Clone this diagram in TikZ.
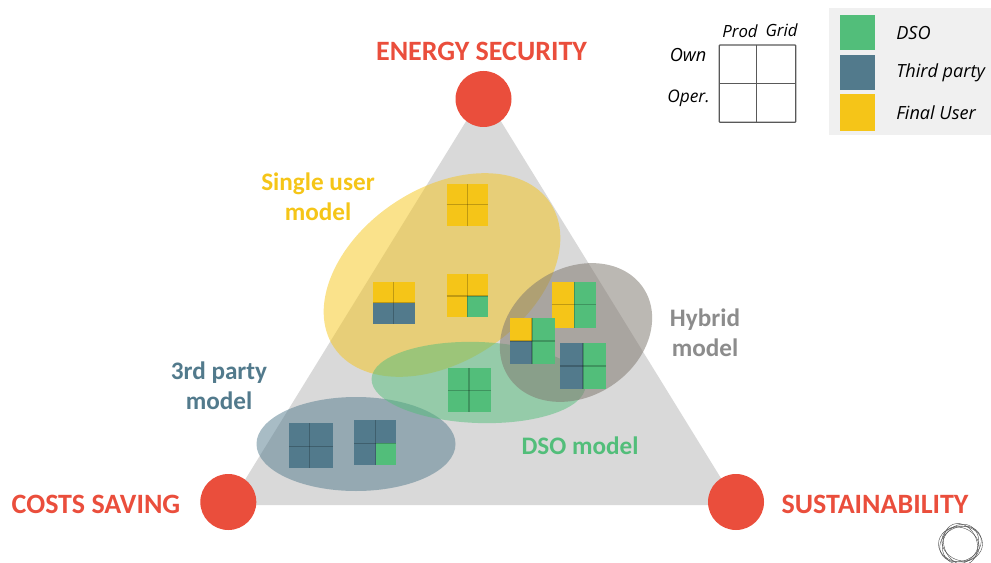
\documentclass[tikz,border=0pt]{standalone}
\usepackage{fontspec}
\setmainfont{Carlito}
\newfontfamily\keyfont{Open Sans}
\definecolor{redpoint}{HTML}{EA4E3C}
\definecolor{yellowuser}{HTML}{F5C518}
\definecolor{greendso}{HTML}{52BE7A}
\definecolor{bluethird}{HTML}{527A8C}
\definecolor{greyhybrid}{HTML}{7F786F}
\definecolor{greymodel}{HTML}{8C8C8C}
\begin{document}
\begin{tikzpicture}[
    x = 0.75pt,
    y = -0.75pt,
    corner/.style = {
        circle,
        fill = redpoint,
        minimum size = 42pt,
        inner sep = 0pt
    },
    goal/.style = {
        font = \fontsize{21}{23}\selectfont\bfseries,
        text = redpoint
    },
    model/.style = {
        font = \fontsize{18.9}{22.5}\selectfont\bfseries,
        align = center
    },
    keytext/.style = {
        font = \fontsize{13.6}{15}\keyfont\itshape
    },
    headtext/.style = {
        font = \fontsize{12.6}{14}\keyfont\itshape
    },
    cellline/.style = {
        draw = black,
        draw opacity = 0.22,
        line width = 1pt
    }
]

\useasboundingbox (0,0) rectangle (991,563);

% Triangle
\fill[gray!30] (483.5,93) -- (737.5,505) -- (229.5,505) -- cycle;

% Corners
\node[corner] (security) at (483.5,99) {};
\node[corner] (saving) at (228.3,502) {};
\node[corner] (sustain) at (736,502) {};

% Model ellipses
\fill[bluethird, opacity = 0.5] (356,444) ellipse [x radius = 99.5, y radius = 47];
\fill[yellowuser, opacity = 0.5] (442,275) ellipse [x radius = 130, y radius = 86.4, rotate = 33.7];
\fill[greendso, opacity = 0.5] (478.5,382.5) ellipse [x radius = 107, y radius = 40.5, rotate = -2];
\fill[greyhybrid, opacity = 0.53] (576,332.5) ellipse [x radius = 80.7, y radius = 64, rotate = 33];

% Small matrices: left, top, middle x, middle y, right, bottom, then the four cells
\foreach \xa/\ya/\xm/\ym/\xb/\yb/\ca/\cb/\cc/\cd in {
    446.5/184/467.3/204.7/487.7/225.7/yellowuser/yellowuser/yellowuser/yellowuser,
    373/281.7/393.7/302.7/415/324/yellowuser/yellowuser/bluethird/bluethird,
    446.7/274/467.3/296/487.7/316.7/yellowuser/yellowuser/yellowuser/greendso,
    551.7/281.7/574.3/304.7/596/327.7/yellowuser/greendso/yellowuser/greendso,
    510/317.7/532/341/554.7/363.7/yellowuser/greendso/bluethird/greendso,
    560/343.3/583/366/605.7/389/bluethird/greendso/bluethird/greendso,
    448.3/368.3/469/390.3/491/411.7/greendso/greendso/greendso/greendso,
    289/423.3/309.7/446.3/333/468/bluethird/bluethird/bluethird/bluethird,
    354/420.3/375.7/443.3/396/465/bluethird/bluethird/bluethird/greendso} {
    \fill[\ca] (\xa,\ya) rectangle (\xm,\ym);
    \fill[\cb] (\xm,\ya) rectangle (\xb,\ym);
    \fill[\cc] (\xa,\ym) rectangle (\xm,\yb);
    \fill[\cd] (\xm,\ym) rectangle (\xb,\yb);
    \draw[cellline] (\xm,\ya) -- (\xm,\yb);
    \draw[cellline] (\xa,\ym) -- (\xb,\ym);
}

% Goal labels
\node[goal] (energy) at (481.5,51) {ENERGY SECURITY};
\node[goal] (costs) at (96,504) {COSTS SAVING};
\node[goal] (sustainability) at (875,504) {SUSTAINABILITY};

% Model labels
\node[model, text = yellowuser] (single) at (318,196.5) {Single user\\model};
\node[model, text = bluethird] (third) at (219,386) {3rd party\\model};
\node[model, text = greymodel] (hybrid) at (705,333) {Hybrid\\model};
\node[model, text = greendso] (dso) at (580,446) {DSO model};

% Reading key
\draw[black!65, line width = 0.9pt, rounded corners = 0.5pt] (719.3,45) rectangle (795.7,122.3);
\draw[black!65, line width = 0.9pt] (756.7,45) -- (756.7,122.3);
\draw[black!65, line width = 0.9pt] (719.3,83.3) -- (795.7,83.3);
\node[headtext] (prod) at (740,31) {Prod};
\node[headtext] (grid) at (781.5,30) {Grid};
\node[keytext] (own) at (688,55) {Own};
\node[keytext, font = \fontsize{13}{15}\keyfont\itshape] (oper) at (688.5,98) {Oper.};

% Legend
\fill[black!6] (829,8) rectangle (991,135);
\foreach \ya/\yb/\cname/\ytext/\label in {
    15/50/greendso/33/DSO,
    55/90/bluethird/73/Third party,
    94/131/yellowuser/113/Final User} {
    \fill[\cname] (840,\ya) rectangle (875,\yb);
    \node[keytext, anchor = west, inner sep = 0pt] at (896,\ytext) {\label};
}

% Ring
\foreach \r/\a/\b in {0/22/18, 25/21.5/17, 60/20.5/17.5, 110/21/16.5, 150/19.5/16} {
    \draw[black!70, line width = 0.3pt] (960.5,544) ellipse [x radius = \a, y radius = \b, rotate = \r];
}

\end{tikzpicture}
\end{document}
